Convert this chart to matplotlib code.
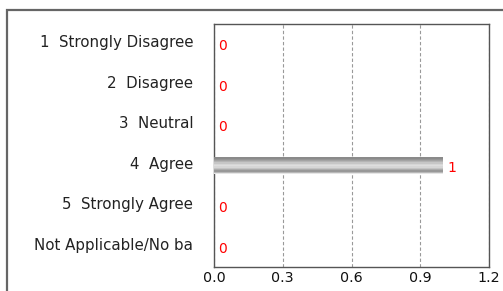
import numpy as np
import matplotlib
matplotlib.use("Agg")
import matplotlib.pyplot as plt
from matplotlib.patches import Rectangle
from matplotlib.transforms import offset_copy

# datos del gráfico
categories = ["1  Strongly Disagree", "2  Disagree", "3  Neutral",
              "4  Agree", "5  Strongly Agree", "Not Applicable/No ba"]
counts = [0, 0, 0, 1, 0, 0]
xticks = [0.0, 0.3, 0.6, 0.9, 1.2]

W, H = 503, 291
fig = plt.figure(figsize=(W / 100, H / 100), dpi=100)

# marco exterior
frame = Rectangle((7 / W, -0.1), 1.2, (H - 10) / H + 0.1, transform=fig.transFigure,
                  fill=False, edgecolor="#666666", linewidth=1.6)
fig.patches.append(frame)

ax = fig.add_axes([214 / W, 1 - 267 / H, (489 - 214) / W, (267 - 24) / H])
y = np.arange(len(categories))
bar_h = 0.42

# tonos del degradado metálico, de arriba a abajo
shades = ["#8a8a8a", "#959595", "#a3a3a3", "#b4b4b4", "#c6c6c6", "#d6d6d6",
          "#dedede", "#d6d6d6", "#c4c4c4", "#acacac", "#989898", "#b8b8b8", "#e6e6e6"]
n = len(shades)
for i, c in enumerate(shades):
    off = -bar_h / 2 + (i + 0.5) * bar_h / n
    ax.barh(y + off, counts, height=bar_h / n * 1.02, color=c, linewidth=0, zorder=3)

for yi, v in zip(y, counts):
    ax.text(v + 0.02, yi + 0.05, str(v), color="#ff0000", fontsize=10,
            va="center", ha="left", zorder=5)

ax.set_xlim(0, 1.2)
ax.set_ylim(len(categories) - 0.5, -0.5)
ax.set_xticks(xticks)
ax.set_xticklabels([f"{t:.1f}" for t in xticks])
ax.set_yticks(y)
ax.set_yticklabels(categories)
ax.tick_params(axis="x", length=0, labelsize=10.3, colors="#111111", pad=3)
ax.tick_params(axis="y", length=0, labelsize=10.8, colors="#222222", pad=15)
for lbl in ax.get_yticklabels():
    lbl.set_transform(offset_copy(lbl.get_transform(), fig=fig, y=3, units="dots"))
ax.grid(axis="x", linestyle=(0, (3, 2)), color="#999999", linewidth=0.8, zorder=1)
for s in ax.spines.values():
    s.set_color("#555555")
    s.set_linewidth(1.0)

fig.savefig("out.png", dpi=100)
